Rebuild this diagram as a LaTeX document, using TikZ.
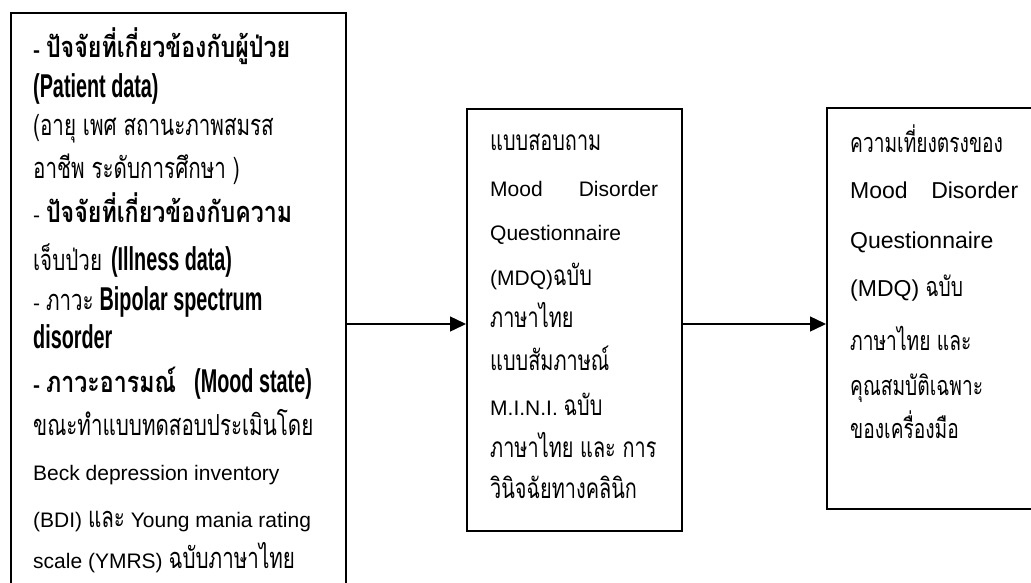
\documentclass[tikz,border=0pt]{standalone}
\usepackage{fontspec}
\usepackage{graphicx}
\setmainfont{Liberation Sans}
\newfontfamily\thai[Script=Thai,FakeStretch=0.71]{Loma}
\newfontfamily\thaib[Script=Thai,FakeStretch=0.8]{Loma}
\usetikzlibrary{arrows.meta}
\def\thsz{29}
\newcommand{\tht}[1]{{\thai\fontsize{\thsz}{30}\selectfont #1}}
\newcommand{\thb}[1]{{\thaib\fontsize{29}{30}\selectfont\bfseries #1}}
\newcommand{\cond}[1]{\scalebox{0.6}[1]{\fontsize{33}{36}\selectfont\bfseries #1}}
\tikzset{
  box/.style={draw=black, line width=1.6pt, fill=none, inner sep=0pt, anchor=north west},
  arr/.style={line width=1.4pt, -{Triangle[length=16pt,width=15pt]}},
  tx/.style={inner sep=0pt, anchor=base west, font=\fontsize{21}{25}\selectfont\def\thsz{29}},
  txm/.style={inner sep=0pt, anchor=base west, font=\fontsize{21}{24}\selectfont\def\thsz{28}},
  txr/.style={inner sep=0pt, anchor=base west, font=\fontsize{23}{26}\selectfont\def\thsz{27}},
}
\begin{document}
\begin{tikzpicture}[x=1pt,y=-1pt]
\useasboundingbox (0,0) rectangle (1031,582);
\fill[white] (0,0) rectangle (1031,582);
\clip (0,0) rectangle (1031,582);
% boxes
\node[box, minimum width=335pt, minimum height=600pt] (lbox) at (10,12) {};
\node[box, minimum width=215pt, minimum height=422pt] (mbox) at (466,108) {};
\node[box, minimum width=225pt, minimum height=401pt] (rbox) at (826,107) {};
% arrows
\coordinate (ay) at (0,324);
\draw[arr] (lbox.east |- ay) -- (mbox.west |- ay);
\draw[arr] (mbox.east |- ay) -- (rbox.west |- ay);
% left text
\node[tx] (l1) at (33,57) {\bfseries - \thb{ปัจจัยที่เกี่ยวข้องกับผู้ป่วย}};
\node[tx] (l2) at (33,97) {\cond{(Patient data)}};
\node[tx] (l3) at (33,135) {\tht{(อายุ เพศ สถานะภาพสมรส}};
\node[tx] (l4) at (33,178) {\tht{อาชีพ ระดับการศึกษา )}};
\node[tx] (l5) at (33,222) {- \thb{ปัจจัยที่เกี่ยวข้องกับความ}};
\node[tx] (l6) at (33,270) {\tht{เจ็บป่วย}\hspace{9pt}\cond{(Illness data)}};
\node[tx] (l7) at (33,310) {- \tht{ภาวะ} \cond{Bipolar spectrum}};
\node[tx] (l8) at (33,348) {\cond{disorder}};
\node[tx] (l9) at (33,392) {\bfseries - \thb{ภาวะอารมณ์}};
\node[tx] (l9b) at (194,392) {\cond{(Mood state)}};
\node[tx] (l10) at (33,435) {\tht{ขณะทำแบบทดสอบประเมินโดย}};
\node[tx] (l11) at (33,480) {Beck depression inventory};
\node[tx] (l12) at (33,527) {(BDI) \tht{และ} Young mania rating};
\node[tx] (l13) at (33,568) {scale (YMRS) \tht{ฉบับภาษาไทย}};
% middle text
\node[txm] (m1) at (490,150) {\tht{แบบสอบถาม}};
\node[txm] (m2) at (490,196) {\makebox[168pt][s]{Mood\hfil Disorder}};
\node[txm] (m3) at (490,240) {Questionnaire};
\node[txm] (m4) at (490,285) {(MDQ)\tht{ฉบับ}};
\node[txm] (m5) at (490,327) {\tht{ภาษาไทย}};
\node[txm] (m6) at (490,370) {\tht{แบบสัมภาษณ์}};
\node[txm] (m7) at (490,415) {M.I.N.I. \tht{ฉบับ}};
\node[txm] (m8) at (490,457) {\tht{ภาษาไทย และ การ}};
\node[txm] (m9) at (490,498) {\tht{วินิจฉัยทางคลินิก}};
% right text
\node[txr] (r1) at (850,152) {\tht{ความเที่ยงตรงของ}};
\node[txr] (r2) at (850,198) {\makebox[168pt][s]{Mood\hfil Disorder}};
\node[txr] (r3) at (850,248) {Questionnaire};
\node[txr] (r4) at (850,296) {(MDQ) \tht{ฉบับ}};
\node[txr] (r5) at (850,350) {\tht{ภาษาไทย และ}};
\node[txr] (r6) at (850,395) {\tht{คุณสมบัติเฉพาะ}};
\node[txr] (r7) at (850,438) {\tht{ของเครื่องมือ}};
\end{tikzpicture}
\end{document}
